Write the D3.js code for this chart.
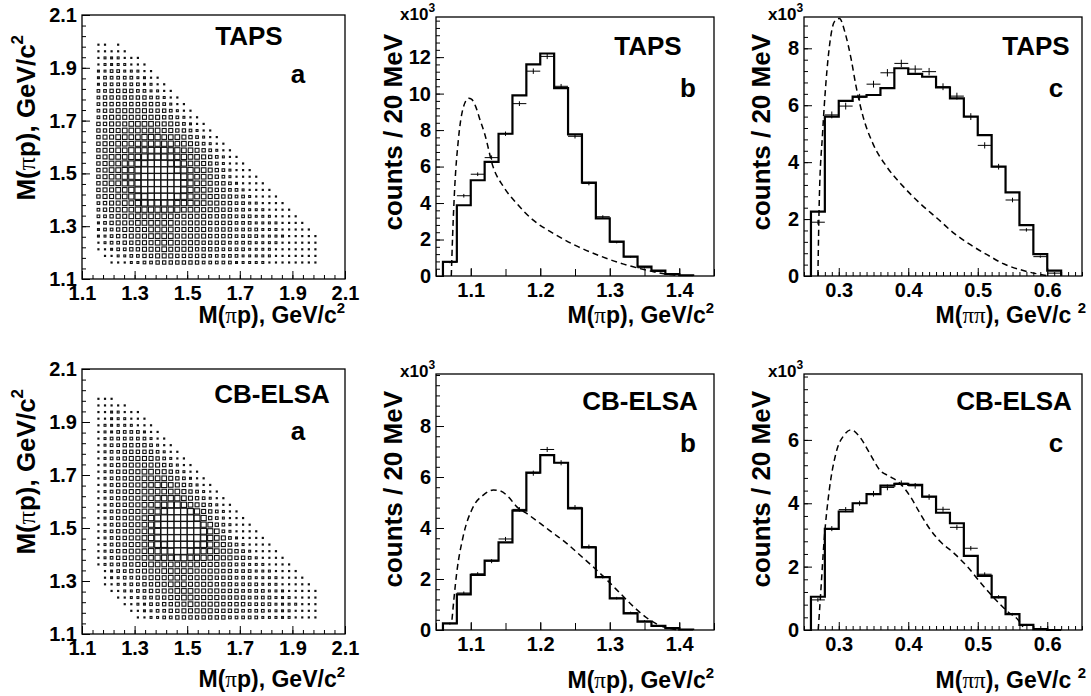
<!DOCTYPE html>
<html>
<head>
<meta charset="utf-8">
<script src="https://cdn.jsdelivr.net/npm/d3@7"></script>
<style>
  body { margin: 0; background: #fff; }
  text { font-family: "Liberation Sans", Arial, Helvetica, sans-serif; font-weight: bold; fill: #000; }
</style>
</head>
<body>
<svg id="fig" width="1091" height="696"></svg>
<script>
// ---------- data ----------
// lower bin edges (20 MeV bins)
var piPBins = [1.06,1.08,1.10,1.12,1.14,1.16,1.18,1.20,1.22,1.24,1.26,1.28,1.30,1.32,1.34,1.36,1.38,1.40];
var piPiBins = [0.26,0.28,0.30,0.32,0.34,0.36,0.38,0.40,0.42,0.44,0.46,0.48,0.50,0.52,0.54,0.56,0.58,0.60];
var binWidth = 0.02;

// TAPS, M(pi p)  (x10^3)
var tapsPiPFit  = [0.78,3.88,5.25,6.26,7.80,9.90,11.6,12.2,10.3,7.77,5.12,3.16,1.88,1.06,0.51,0.29,0.11,0.04];
var tapsPiPData = [0.75,4.40,5.58,6.49,7.80,9.45,11.23,12.04,10.40,7.66,5.07,3.25,1.85,1.05,0.45,0.25,0.10,0.03];
var tapsPiPErr  = [0.05,0.10,0.10,0.12,0.12,0.13,0.15,0.15,0.13,0.12,0.10,0.08,0.06,0.05,0.04,0.03,0.02,0.01];
var tapsPiPCurveX = [1.072,1.074,1.077,1.082,1.089,1.097,1.101,1.107,1.113,1.120,1.132,1.147,1.166,1.190,1.219,1.252,1.286,1.320,1.353,1.382,1.400];
var tapsPiPCurveY = [0,2.3,4.9,7.4,9.2,9.75,9.7,9.3,8.6,7.8,6.0,4.9,3.98,3.06,2.33,1.65,1.10,0.65,0.32,0.10,0.02];

// TAPS, M(pi pi)
var tapsPiPiFit  = [2.26,5.60,6.15,6.30,6.36,6.60,7.30,7.10,7.00,6.63,6.24,5.60,4.95,3.84,2.94,1.79,0.77,0.19];
var tapsPiPiData = [1.89,5.66,5.97,6.28,6.74,7.14,7.47,7.27,7.18,6.65,6.32,5.60,4.59,3.84,2.67,1.62,0.68,0.10];
var tapsPiPiErr  = [0.08,0.12,0.12,0.12,0.12,0.13,0.13,0.13,0.13,0.12,0.12,0.12,0.11,0.10,0.08,0.06,0.04,0.02];
var tapsPiPiCurveX = [0.270,0.272,0.2767,0.2815,0.2878,0.2936,0.301,0.3096,0.318,0.325,0.335,0.349,0.369,0.393,0.417,0.4415,0.466,0.490,0.514,0.538,0.563,0.587,0.604];
var tapsPiPiCurveY = [0,2.67,5.0,6.77,8.3,8.93,9.05,8.5,7.6,6.65,5.6,4.66,3.84,3.14,2.55,2.03,1.5,1.09,0.74,0.42,0.21,0.07,0];

// CB-ELSA, M(pi p)
var cbPiPFit  = [0.26,1.40,2.16,2.72,3.44,4.68,6.17,6.86,6.56,4.77,3.24,2.07,1.24,0.65,0.33,0.16,0.07,0.02];
var cbPiPData = [0.25,1.45,2.20,2.70,3.57,4.73,6.15,7.08,6.56,4.81,3.27,2.09,1.25,0.68,0.35,0.15,0.06,0.02];
var cbPiPErr  = [0.04,0.06,0.07,0.08,0.08,0.09,0.10,0.10,0.10,0.09,0.08,0.07,0.05,0.04,0.03,0.02,0.02,0.01];
var cbPiPCurveX = [1.073,1.0797,1.089,1.1037,1.118,1.1325,1.142,1.154,1.166,1.180,1.200,1.219,1.238,1.257,1.276,1.296,1.315,1.334,1.353,1.372,1.389,1.399];
var cbPiPCurveY = [0.4,2.22,3.66,4.84,5.29,5.49,5.46,5.23,4.84,4.58,4.18,3.79,3.40,2.94,2.48,1.96,1.44,0.92,0.48,0.18,0.05,0];

// CB-ELSA, M(pi pi)
var cbPiPiFit  = [1.05,3.19,3.74,4.00,4.29,4.56,4.61,4.58,4.21,3.70,3.37,2.34,1.71,1.03,0.50,0.16,0.03,0];
var cbPiPiData = [0.95,3.20,3.80,4.00,4.30,4.50,4.63,4.55,4.20,3.81,3.24,2.58,1.76,1.05,0.50,0.17,0.03,0];
var cbPiPiErr  = [0.06,0.08,0.08,0.08,0.09,0.09,0.09,0.09,0.09,0.08,0.08,0.07,0.06,0.05,0.04,0.02,0.01,0];
var cbPiPiCurveX = [0.2705,0.274,0.279,0.2864,0.296,0.308,0.318,0.330,0.3445,0.359,0.374,0.388,0.403,0.417,0.432,0.446,0.466,0.485,0.505,0.524,0.543,0.558,0.565];
var cbPiPiCurveY = [0,1.16,2.84,4.42,5.58,6.16,6.32,6.10,5.58,5.05,4.84,4.63,4.21,3.68,3.16,2.79,2.42,2.0,1.47,1.0,0.58,0.32,0.1];

// Dalitz plots: lower bin edges (both axes), box size per cell 0..9, rows from top (y=1.975) down
var dalitzBins = [1.15,1.175,1.2,1.225,1.25,1.275,1.3,1.325,1.35,1.375,1.4,1.425,1.45,1.475,1.5,1.525,1.55,1.575,1.6,1.625,1.65,1.675,1.7,1.725,1.75,1.775,1.8,1.825,1.85,1.875,1.9,1.925,1.95,1.975];
var tapsDalitz = [
  "1101",
  "11111",
  "1222111",
  "12222111",
  "223322211",
  "2333332211",
  "23333332211",
  "334444332211",
  "3444444433211",
  "34444444443211",
  "344555554443211",
  "3455555555443211",
  "44555666655543211",
  "445566666655443211",
  "4556666777666543211",
  "45566677777766543211",
  "455667778887766543211",
  "4566677888887766543211",
  "45667788999887665432111",
  "456677899999887665432111",
  "4566778999999876654321111",
  "45667789999998766544321111",
  "455667899999987665443321111",
  "4556678899998876655443321111",
  "34556678888877766554433221111",
  "345566777777766655544332221111",
  "3345566666665555544443332221111",
  "23455566666655555444433322221111",
  "233455556666555554444333322211111",
  "2234455566665555544443333222211111",
  "1233445556665555444433332222111111",
  "1123344555655554444333322221111111",
  "0112233445554444433333222221111111",
  "0011122334444444333332222211111111"
];
var cbDalitz = [
  "111",
  "11111",
  "1122111",
  "11222111",
  "122222111",
  "1223333211",
  "12333333211",
  "123344443211",
  "1233444443211",
  "12334555543211",
  "123445555543211",
  "1234455665543211",
  "12344556666543211",
  "123445566776543211",
  "1234455666666543211",
  "12344556677776543211",
  "123445566778876543211",
  "1234455667899987543211",
  "12344556789999987432111",
  "123445567899999976432111",
  "1234455678999999876321111",
  "12344556789999998765321111",
  "123445567889999887654321111",
  "1234455677889988776554321111",
  "12344556677788777665544321111",
  "123344556666666655544332221111",
  "0123344555666665555443332221111",
  "01223344555666555544433322221111",
  "011223344556665555444333322211111",
  "0011223344556665555444333322211111",
  "0001122334455665555444433332221111",
  "0000112233445565555444433332222111",
  "0000011223344555554444333322221111",
  "0000001122334444444433333222221111"
];

var dalitzTicks = [1.1,1.3,1.5,1.7,1.9,2.1];
var countTicks = [0,2,4,6,8,10,12];

// ---------- drawing ----------
var svg = d3.select("#fig");
svg.append("rect").attr("width",1091).attr("height",696).attr("fill","#fff");

var labelSize = 20, xTitleSize = 23, yTitleSize = 26;

function range(a, b, s) {
  var out = [];
  for (var v = a; v <= b + 1e-9; v += s) out.push(+v.toFixed(4));
  return out;
}

// axis title with pi and superscript
function title(g, parts, x, y, rotate, anchor, size) {
  var t = g.append("text")
    .attr("font-size", size)
    .attr("text-anchor", anchor)
    .attr("transform", "translate(" + x + "," + y + ")" + (rotate ? " rotate(-90)" : ""));
  parts.forEach(function(p) {
    var s = t.append("tspan").text(p.t);
    if (p.pi) s.attr("font-weight", "normal").attr("font-family", "Liberation Serif, DejaVu Serif, serif");
    if (p.sup) s.attr("font-size", size * 0.65).attr("dy", -size * 0.45);
  });
  return t;
}

function frameAxes(g, x, y, f, o) {
  // minor ticks
  g.append("g").attr("transform", "translate(0," + f.b + ")")
    .call(d3.axisBottom(x).tickValues(o.xMinor).tickSize(-o.xMinorLen).tickFormat(""))
    .call(function(a){ a.select(".domain").remove(); });
  g.append("g").attr("transform", "translate(" + f.l + ",0)")
    .call(d3.axisLeft(y).tickValues(o.yMinor).tickSize(-4).tickFormat(""))
    .call(function(a){ a.select(".domain").remove(); });
  // major ticks with labels
  g.append("g").attr("transform", "translate(0," + f.b + ")")
    .call(d3.axisBottom(x).tickValues(o.xMajor).tickSize(-8).tickPadding(7).tickFormat(d3.format(".1f")))
    .call(function(a){ a.select(".domain").remove(); a.selectAll("text").attr("font-size", labelSize).attr("font-family", null); });
  g.append("g").attr("transform", "translate(" + f.l + ",0)")
    .call(d3.axisLeft(y).tickValues(o.yMajor).tickSize(-8).tickPadding(5).tickFormat(o.yFormat))
    .call(function(a){ a.select(".domain").remove(); a.selectAll("text").attr("font-size", labelSize).attr("font-family", null); });
  g.selectAll(".tick line").attr("stroke", "#000").attr("stroke-width", 1);
  g.append("rect").attr("x", f.l).attr("y", f.t).attr("width", f.r - f.l).attr("height", f.b - f.t)
    .attr("fill", "none").attr("stroke", "#000").attr("stroke-width", 1.3);
}

function tags(g, name, nx, ny, letter, lx, ly) {
  g.append("text").attr("x", nx).attr("y", ny).attr("text-anchor", "middle").attr("font-size", 26).text(name);
  g.append("text").attr("x", lx).attr("y", ly).attr("text-anchor", "middle").attr("font-size", 26).text(letter);
}

var mppTitle = [{t:"M("},{t:"π",pi:true},{t:"p), GeV/c"},{t:"2",sup:true}];
var mpipiTitle = [{t:"M("},{t:"ππ",pi:true},{t:"), GeV/c "},{t:"2",sup:true}];

function drawDalitz(f, rows, o) {
  var g = svg.append("g");
  var x = d3.scaleLinear().domain([1.1, 2.1]).range([f.l, f.r]);
  var y = d3.scaleLinear().domain([1.1, 2.1]).range([f.b, f.t]);
  var bw = dalitzBins[1] - dalitzBins[0];
  var cells = [];
  rows.forEach(function(s, r) {
    for (var c = 0; c < s.length; c++) {
      var v = +s[c];
      if (v > 0) cells.push({ x0: dalitzBins[c], y0: dalitzBins[rows.length - 1 - r], v: v });
    }
  });
  var cell = x(1.1 + bw) - x(1.1);
  var size = d3.scalePow().exponent(0.8).domain([0, 9]).range([0, cell * 0.97]);
  g.selectAll("rect.box").data(cells).join("rect").attr("class", "box")
    .attr("x", function(d){ return x(d.x0 + bw / 2) - size(d.v) / 2; })
    .attr("y", function(d){ return y(d.y0 + bw / 2) - size(d.v) / 2; })
    .attr("width", function(d){ return size(d.v); })
    .attr("height", function(d){ return size(d.v); })
    .attr("fill", "#fff").attr("stroke", "#111").attr("stroke-width", 1.1);

  frameAxes(g, x, y, f, {
    xMajor: dalitzTicks, xMinor: range(1.1, 2.1, 0.04), xMinorLen: 4,
    yMajor: dalitzTicks, yMinor: range(1.1, 2.1, 0.04), yFormat: d3.format(".1f")
  });
  title(g, mppTitle, f.r, f.b + o.xTitleDy, false, "end", xTitleSize);
  title(g, mppTitle, f.l - 47, f.t + 20, true, "end", yTitleSize);
  tags(g, o.name, o.nameX, o.nameY, "a", f.r - 47, o.letterY);
}

function drawHist(f, o) {
  var g = svg.append("g");
  var x = d3.scaleLinear().domain(o.xDomain).range([f.l, f.r]);
  var y = d3.scaleLinear().domain([0, o.yMax]).range([f.b, f.t]);

  // fit histogram (step line)
  var pts = [[o.bins[0], 0]];
  o.fit.forEach(function(v, i) { pts.push([o.bins[i], v]); pts.push([o.bins[i] + binWidth, v]); });
  pts.push([o.bins[o.bins.length - 1] + binWidth, 0]);
  var line = d3.line().x(function(d){ return x(d[0]); }).y(function(d){ return y(d[1]); });
  g.append("path").attr("d", line(pts)).attr("fill", "none").attr("stroke", "#000").attr("stroke-width", 2.2);

  // data points with errors
  var dp = g.append("g").attr("stroke", "#000").attr("stroke-width", 1);
  o.data.forEach(function(v, i) {
    if (v <= 0) return;
    dp.append("line").attr("x1", x(o.bins[i])).attr("x2", x(o.bins[i] + binWidth)).attr("y1", y(v)).attr("y2", y(v));
    dp.append("line").attr("x1", x(o.bins[i] + binWidth / 2)).attr("x2", x(o.bins[i] + binWidth / 2))
      .attr("y1", y(v - o.err[i])).attr("y2", y(v + o.err[i]));
  });

  // phase-space curve
  var cpts = o.curveX.map(function(v, i){ return [v, o.curveY[i]]; });
  g.append("path").attr("d", d3.line().curve(d3.curveMonotoneX).x(function(d){ return x(d[0]); }).y(function(d){ return y(Math.min(d[1], o.yMax)); })(cpts))
    .attr("fill", "none").attr("stroke", "#000").attr("stroke-width", 1.5).attr("stroke-dasharray", "6,4");

  frameAxes(g, x, y, f, {
    xMajor: o.xTicks, xMinor: o.xMinor, xMinorLen: o.xMinorLen,
    yMajor: countTicks.filter(function(v){ return v <= o.yMax - 0.2; }),
    yMinor: range(0, o.yMax, 0.4), yFormat: d3.format("d")
  });
  // x10^3
  var e = g.append("text").attr("x", f.l - 36).attr("y", f.t + 3).attr("font-size", 17);
  e.append("tspan").text("x10");
  e.append("tspan").text("3").attr("font-size", 12).attr("dy", -8);

  title(g, o.xTitle, f.r + o.xTitleShift, f.b + o.xTitleDy, false, "end", xTitleSize);
  title(g, [{t:"counts / 20 MeV"}], f.l - 34, f.t + 17, true, "end", yTitleSize);
  tags(g, o.name, f.r - o.nameDx, f.t + o.nameDy, o.letter, f.r - 26, f.t + o.nameDy + 42);
}

var fA1 = {l:82, r:345, t:15, b:279}, fB1 = {l:436, r:714, t:17, b:276}, fC1 = {l:804, r:1082, t:17, b:276};
var fA2 = {l:82, r:345, t:369, b:634}, fB2 = {l:436, r:714, t:374, b:630}, fC2 = {l:804, r:1082, t:374, b:630};

drawDalitz(fA1, tapsDalitz, { name: "TAPS", nameX: 249, nameY: 45, letterY: 83, xTitleDy: 44 });
drawDalitz(fA2, cbDalitz, { name: "CB-ELSA", nameX: 272, nameY: 403, letterY: 440, xTitleDy: 53 });

var bOpts = { bins: piPBins, xDomain: [1.05, 1.45], xTicks: [1.1,1.2,1.3,1.4], xMinor: range(1.05, 1.45, 0.05), xMinorLen: 7, xTitle: mppTitle, xTitleShift: 0, letter: "b" };
var cOpts = { bins: piPiBins, xDomain: [0.25, 0.65], xTicks: [0.3,0.4,0.5,0.6], xMinor: range(0.25, 0.65, 0.01), xMinorLen: 4, xTitle: mpipiTitle, xTitleShift: 4, letter: "c" };

drawHist(fB1, Object.assign({}, bOpts, { fit: tapsPiPFit, data: tapsPiPData, err: tapsPiPErr, curveX: tapsPiPCurveX, curveY: tapsPiPCurveY, yMax: 14.2, name: "TAPS", nameDx: 66, nameDy: 38, xTitleDy: 47 }));
drawHist(fC1, Object.assign({}, cOpts, { fit: tapsPiPiFit, data: tapsPiPiData, err: tapsPiPiErr, curveX: tapsPiPiCurveX, curveY: tapsPiPiCurveY, yMax: 9.1, name: "TAPS", nameDx: 46, nameDy: 38, xTitleDy: 47 }));
drawHist(fB2, Object.assign({}, bOpts, { fit: cbPiPFit, data: cbPiPData, err: cbPiPErr, curveX: cbPiPCurveX, curveY: cbPiPCurveY, yMax: 10.04, name: "CB-ELSA", nameDx: 74, nameDy: 36, xTitleDy: 58 }));
drawHist(fC2, Object.assign({}, cOpts, { fit: cbPiPiFit, data: cbPiPiData, err: cbPiPiErr, curveX: cbPiPiCurveX, curveY: cbPiPiCurveY, yMax: 8.08, name: "CB-ELSA", nameDx: 68, nameDy: 36, xTitleDy: 58 }));
</script>
</body>
</html>
